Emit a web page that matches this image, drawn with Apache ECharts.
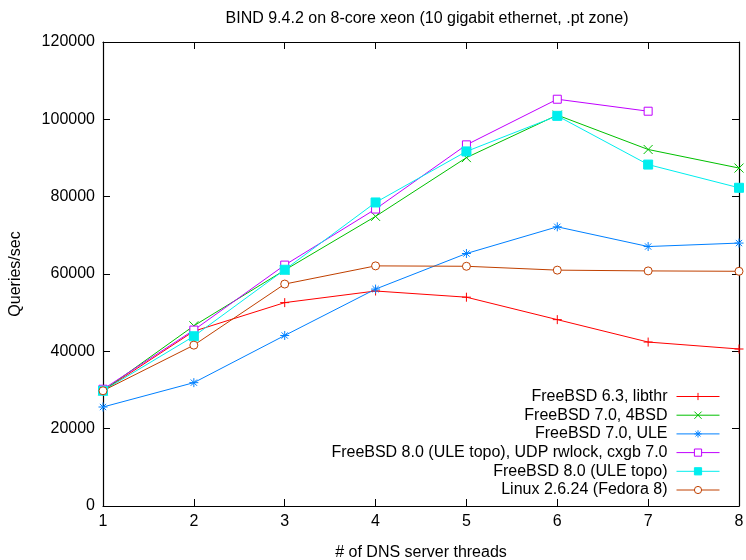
<!DOCTYPE html>
<html>
<head>
<meta charset="utf-8">
<script src="https://cdn.jsdelivr.net/npm/echarts@6/dist/echarts.min.js"></script>
<style>
  html, body { margin: 0; padding: 0; background: #fff; }
  #chart { width: 746px; height: 560px; }
</style>
</head>
<body>
<div id="chart"></div>
<script>
// threads on the x axis
var threads = [1, 2, 3, 4, 5, 6, 7, 8];

// queries/sec per series
var names = [
    'FreeBSD 6.3, libthr',
    'FreeBSD 7.0, 4BSD',
    'FreeBSD 7.0, ULE',
    'FreeBSD 8.0 (ULE topo), UDP rwlock, cxgb 7.0',
    'FreeBSD 8.0 (ULE topo)',
    'Linux 2.6.24 (Fedora 8)'
];
var libthr63 = [29800, 45200, 52600, 55600, 54000, 48200, 42400, 40600];
var bsd4_70 = [29800, 46600, 61000, 74900, 90100, 101100, 92200, 87400];
var ule70 = [25600, 31900, 44100, 56100, 65300, 72200, 67100, 68000];
var uleTopoRw80 = [30200, 45500, 62300, 76800, 93400, 105200, 102100];
var uleTopo80 = [29800, 43900, 61100, 78500, 91700, 100900, 88300, 82300];
var linux2624 = [29800, 41600, 57400, 62100, 62000, 61000, 60800, 60700];

var yTicks = { min: 0, max: 120000, step: 20000 };

var colors = ['#ff0000', '#00c000', '#0080ff', '#c000ff', '#00eeee', '#c04000'];
var symbols = [
    'path://M5,0L5,10M0,5L10,5',
    'path://M0,0L10,10M0,10L10,0',
    'path://M5,0L5,10M0,5L10,5M1.5,1.5L8.5,8.5M1.5,8.5L8.5,1.5',
    'rect',
    'rect',
    'circle'
];
var hollow = [false, false, false, true, false, true];
var symbolSizes = [9, 9, 9, 8, 9, 8];
var allData = [libthr63, bsd4_70, ule70, uleTopoRw80, uleTopo80, linux2624];

var chart = echarts.init(document.getElementById('chart'));
var font = 'Liberation Sans, Arial, sans-serif';

var series = [];
var legends = [];
allData.forEach(function (vals, i) {
    var fill = hollow[i] ? '#fff' : colors[i];
    series.push({
        name: names[i],
        type: 'line',
        data: vals.map(function (v, j) { return [threads[j], v]; }),
        symbol: symbols[i],
        symbolSize: symbolSizes[i],
        showAllSymbol: true,
        lineStyle: { color: colors[i], width: 1 },
        itemStyle: { color: fill, borderColor: colors[i], borderWidth: 1 },
        emphasis: { disabled: true },
        animation: false
    });
    legends.push({
        data: [names[i]],
        right: 26,
        top: 388.5 + i * 18.7,
        padding: 0,
        align: 'right',
        itemWidth: 43,
        itemHeight: 9,
        lineStyle: { width: 1, color: colors[i] },
        itemStyle: { color: fill, borderWidth: 1, borderColor: colors[i] },
        textStyle: { fontFamily: font, fontSize: 16, lineHeight: 16, color: '#000', padding: [0, 4, 0, 0] },
        selectedMode: false
    });
});

function axisBase() {
    return {
        axisLine: { show: true, onZero: false, lineStyle: { color: '#000', width: 1.2 } },
        axisTick: { show: true, inside: true, length: 7, lineStyle: { color: '#000' } },
        splitLine: { show: false }
    };
}

var xMain = Object.assign(axisBase(), {
    type: 'value', min: 1, max: 8, interval: 1, position: 'bottom',
    name: '# of DNS server threads', nameLocation: 'middle', nameGap: 39,
    nameTextStyle: { fontFamily: font, fontSize: 16, color: '#000' },
    axisLabel: { fontFamily: font, fontSize: 16, color: '#000', margin: 8 }
});
var xTop = Object.assign(axisBase(), {
    type: 'value', min: 1, max: 8, interval: 1, position: 'top',
    axisLabel: { show: false }
});
var yMain = Object.assign(axisBase(), {
    type: 'value', min: yTicks.min, max: yTicks.max, interval: yTicks.step, position: 'left',
    name: 'Queries/sec', nameLocation: 'middle', nameGap: 79, nameRotate: 90,
    nameTextStyle: { fontFamily: font, fontSize: 16, color: '#000' },
    axisLabel: { fontFamily: font, fontSize: 16, color: '#000', margin: 8,
        formatter: function (v) { return String(v); } }
});
var yRight = Object.assign(axisBase(), {
    type: 'value', min: yTicks.min, max: yTicks.max, interval: yTicks.step, position: 'right',
    axisLabel: { show: false }
});

chart.setOption({
    backgroundColor: '#fff',
    animation: false,
    title: {
        text: 'BIND 9.4.2 on 8-core xeon (10 gigabit ethernet, .pt zone)',
        left: 422, top: 6, textAlign: 'center',
        textStyle: { fontFamily: font, fontSize: 16, fontWeight: 'normal', color: '#000' }
    },
    legend: legends,
    grid: { left: 103, right: 7, top: 42, bottom: 54, outerBoundsMode: 'none' },
    xAxis: [xMain, xTop],
    yAxis: [yMain, yRight],
    series: series
});
</script>
</body>
</html>
